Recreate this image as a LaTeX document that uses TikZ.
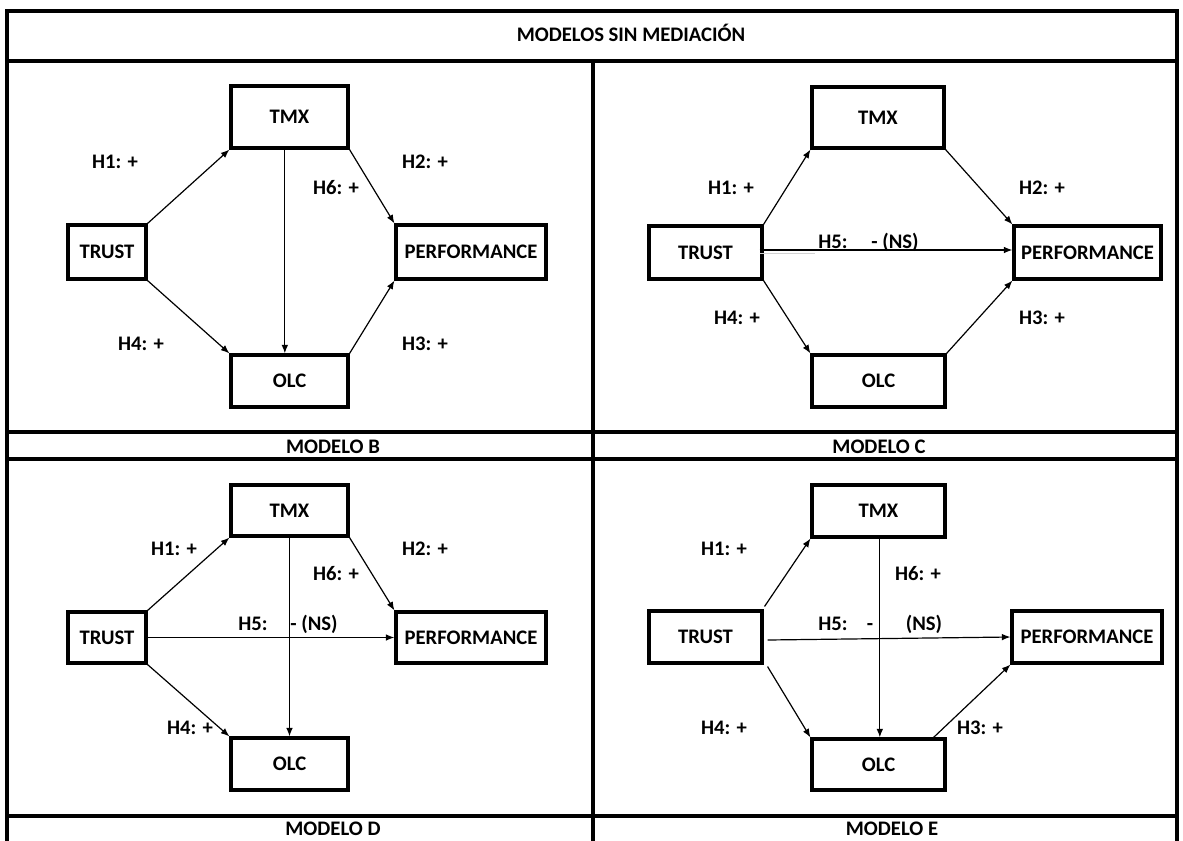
\documentclass[tikz,border=0pt]{standalone}
\usepackage{fontspec}
\setmainfont{Carlito}
\usetikzlibrary{arrows.meta,calc}
\begin{document}
\begin{tikzpicture}[x=0.75pt,y=-0.75pt,
  rule/.style={line width=2.3pt},
  box/.style 2 args={draw, line width=2.3pt, inner sep=0pt,
    minimum width=#1*0.75pt, minimum height=#2*0.75pt,
    font=\bfseries\fontsize{15.5}{18}\selectfont},
  lbl/.style={inner sep=0pt, text height=10pt, text depth=0pt,
    font=\bfseries\fontsize{15.5}{18}\selectfont},
  arr/.style={line width=0.9pt, -{Latex[length=6.5pt,width=5pt]}},
]
\useasboundingbox (0,0) rectangle (1183,840);

% table frame and rules
\draw[rule] (7,842) -- (7,11) -- (1177,11) -- (1177,842);
\draw[rule] (7,61) -- (1177,61);
\draw[rule] (7,432) -- (1177,432);
\draw[rule] (7,459) -- (1177,459);
\draw[rule] (7,816) -- (1177,816);
\draw[rule] (593,61) -- (593,842);

% headings
\node[lbl] (title) at (631,35) {MODELOS SIN MEDIACIÓN};
\node[lbl] (capB) at (333,447) {MODELO B};
\node[lbl] (capC) at (879,447) {MODELO C};
\node[lbl] (capD) at (333,829) {MODELO D};
\node[lbl] (capE) at (892,829) {MODELO E};

% ---------- Modelo B ----------
\node[box={117}{62}] (bTmx) at (289.5,117) {TMX};
\node[box={78}{54}] (bTrust) at (107,252) {TRUST};
\node[box={150}{54}] (bPerf) at (471,252) {PERFORMANCE};
\node[box={117}{52}] (bOlc) at (289.5,381) {OLC};
\draw[arr] (bTrust.north east) -- (bTmx.south west);
\draw[arr] (bTrust.south east) -- (bOlc.north west);
\draw[arr] (bTmx.south east) -- (bPerf.north west);
\draw[arr] (bOlc.north east) -- (bPerf.south west);
\draw[arr] ([xshift=-3.5pt]bTmx.south) -- ([xshift=-3.5pt]bOlc.north);
\node[lbl] (bH1) at (115,162) {H1: +};
\node[lbl] (bH2) at (425,162) {H2: +};
\node[lbl] (bH6) at (336,188) {H6: +};
\node[lbl] (bH4) at (141,344) {H4: +};
\node[lbl] (bH3) at (425,344) {H3: +};

% ---------- Modelo C ----------
\node[box={132}{61}] (cTmx) at (878,117.5) {TMX};
\node[box={113}{53}] (cTrust) at (705.5,252.5) {TRUST};
\node[box={147}{53}] (cPerf) at (1087.5,252.5) {PERFORMANCE};
\node[box={133}{52}] (cOlc) at (878.5,381) {OLC};
\draw[arr] (cTrust.north east) -- (cTmx.south west);
\draw[arr] (cTrust.south east) -- (cOlc.north west);
\draw[arr] (cTmx.south east) -- (cPerf.north west);
\draw[arr] (cOlc.north east) -- (cPerf.south west);
\draw[arr] ([shift={(-4,-2.5)}]cTrust.east) -- ([shift={(0,-2.5)}]cPerf.west);
\draw[gray!35, line width=1.2pt] ([shift={(-4,1)}]cTrust.east) -- ++(55,0);
\node[lbl] (cH1) at (731,188) {H1: +};
\node[lbl] (cH2) at (1042,188) {H2: +};
\node[lbl] (cH5) at (833,242) {H5:};
\node[lbl] (cH5v) at (895,242) {- (NS)};
\node[lbl] (cH4) at (737,318) {H4: +};
\node[lbl] (cH3) at (1042,318) {H3: +};

% ---------- Modelo D ----------
\node[box={117}{51}] (dTmx) at (289.5,510.5) {TMX};
\node[box={78}{51}] (dTrust) at (107,637.5) {TRUST};
\node[box={150}{51}] (dPerf) at (471,637.5) {PERFORMANCE};
\node[box={117}{52}] (dOlc) at (289.5,764) {OLC};
\draw[arr] (dTrust.north east) -- (dTmx.south west);
\draw[arr] (dTrust.south east) -- (dOlc.north west);
\draw[arr] (dTmx.south east) -- (dPerf.north west);
\draw[arr] (dTmx.south) -- (dOlc.north);
\draw[arr] (dTrust.east) -- (dPerf.west);
\node[lbl] (dH1) at (174,549) {H1: +};
\node[lbl] (dH2) at (425,549) {H2: +};
\node[lbl] (dH6) at (336,574) {H6: +};
\node[lbl] (dH5) at (253,624) {H5:};
\node[lbl] (dH5v) at (314,624) {- (NS)};
\node[lbl] (dH4) at (190,728) {H4: +};

% ---------- Modelo E ----------
\node[box={133}{52}] (eTmx) at (878.5,511) {TMX};
\node[box={113}{52}] (eTrust) at (705.5,637) {TRUST};
\node[box={150}{52}] (ePerf) at (1087,637) {PERFORMANCE};
\node[box={133}{51}] (eOlc) at (878.5,764.5) {OLC};
\draw[arr] ([shift={(1,-3)}]eTrust.north east) -- (eTmx.south west);
\draw[arr] ([shift={(4,2)}]eTrust.south east) -- (eOlc.north west);
\draw[arr] ([xshift=1pt]eTmx.south) -- ([xshift=1pt]eOlc.north);
\draw[arr] ([shift={(4,3)}]eTrust.east) -- (ePerf.west);
\draw[arr] ([shift={(-13,0)}]eOlc.north east) -- (ePerf.south west);
\node[lbl] (eH1) at (724,549) {H1: +};
\node[lbl] (eH6) at (918,574) {H6: +};
\node[lbl] (eH5) at (833,624) {H5:};
\node[lbl] (eH5m) at (870,624) {-};
\node[lbl] (eH5v) at (924,624) {(NS)};
\node[lbl] (eH4) at (724,728) {H4: +};
\node[lbl] (eH3) at (980,728) {H3: +};
\end{tikzpicture}
\end{document}
